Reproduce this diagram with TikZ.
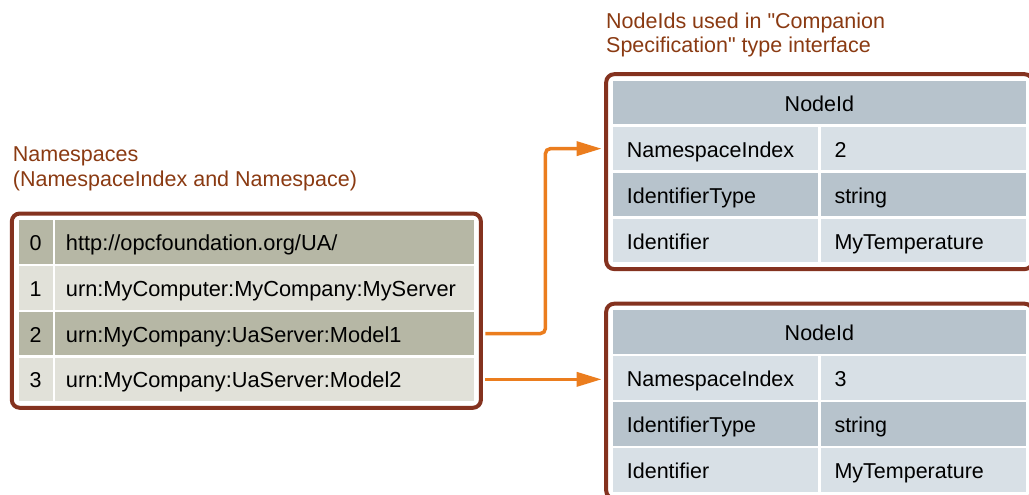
\documentclass[tikz,border=0pt]{standalone}
\usepackage{fontspec}
\setmainfont{Liberation Sans}[Ligatures=TeXOff]
\usepackage{tikz}
\usetikzlibrary{
  positioning, arrows.meta, calc, fit,
}
\definecolor{frameBrown} {HTML}{84321F}
\definecolor{labelBrown} {HTML}{8A3A12}
\definecolor{flowOrange} {HTML}{EB7D1E}
\definecolor{nsDark}     {HTML}{B6B7A5}
\definecolor{nsLight}    {HTML}{E1E1D9}
\definecolor{idDark}     {HTML}{B7C3CC}
\definecolor{idLight}    {HTML}{D8E0E6}

\begin{document}
\begin{tikzpicture}[x=1pt, y=-1pt,
    every node/.style={font=\fontsize{21.5}{24.5}\selectfont, text=black},
    cell/.style={rectangle, anchor=north west, inner sep=0pt, minimum height=43.5pt,
                 text height=20pt, text depth=3pt},
    frame/.style={draw=frameBrown, line width=4pt, rounded corners=8pt, inner sep=6.5pt},
    flow/.style={draw=flowOrange, line width=3.5pt, rounded corners=5pt,
                 -{Triangle[length=25pt, width=14pt]}},
    caption/.style={anchor=north west, align=left, inner sep=0pt, text=labelBrown}]
  \useasboundingbox (0,0) rectangle (1029,495);

  % namespace table
  \foreach \i/\uri/\shade in {0/{http://opcfoundation.org/UA/}/nsDark,
                              1/{urn:MyComputer:MyCompany:MyServer}/nsLight,
                              2/{urn:MyCompany:UaServer:Model1}/nsDark,
                              3/{urn:MyCompany:UaServer:Model2}/nsLight}{
    \node[cell, fill=\shade, minimum width=34pt] (idx\i) at (18.3, 220+\i*45.8) {\i};
    \node[cell, fill=\shade, text width=397.6pt, inner xsep=10.7pt, align=left,
          font=\fontsize{21.8}{24.5}\selectfont]
      (ns\i) at (55, 220+\i*45.8) {\uri};
  }
  \node[frame, fit=(idx0)(ns3)] (nsFrame) {};
  \node[caption] (nsCaption) at (12.7, 146.7) {Namespaces\\(NamespaceIndex and Namespace)};

  % nodeid tables
  \foreach \t/\oy/\idx in {A/0/2, B/229.5/3}{
    \node[cell, fill=idDark, minimum width=413pt] (\t h) at (612.7, 80.7+\oy) {NodeId};
    \foreach \k/\key/\val/\shade in {1/NamespaceIndex/\idx/idLight,
                                     2/IdentifierType/string/idDark,
                                     3/Identifier/MyTemperature/idLight}{
      \node[cell, fill=\shade, text width=177.3pt, inner xsep=14pt, align=left]
        (\t\k key) at (612.7, 80.7+\oy+\k*46) {\key};
      \node[cell, fill=\shade, text width=177.8pt, inner xsep=13.6pt, align=left]
        (\t\k val) at (820.7, 80.7+\oy+\k*46) {\val};
    }
    \node[frame, fit=(\t h)(\t3val)] (\t Frame) {};
  }
  \node[caption] (idCaption) at (606, 12.7)
    {NodeIds used in "Companion\\Specification" type interface};

  \draw[flow] ([xshift=11pt]ns2.east) -- ++(60,0) |- ([xshift=-11pt]A1key.west);
  \draw[flow] ([xshift=11pt]ns3.east) -- ($(ns3.east -| B1key.west)+(-11,0)$);
\end{tikzpicture}
\end{document}
